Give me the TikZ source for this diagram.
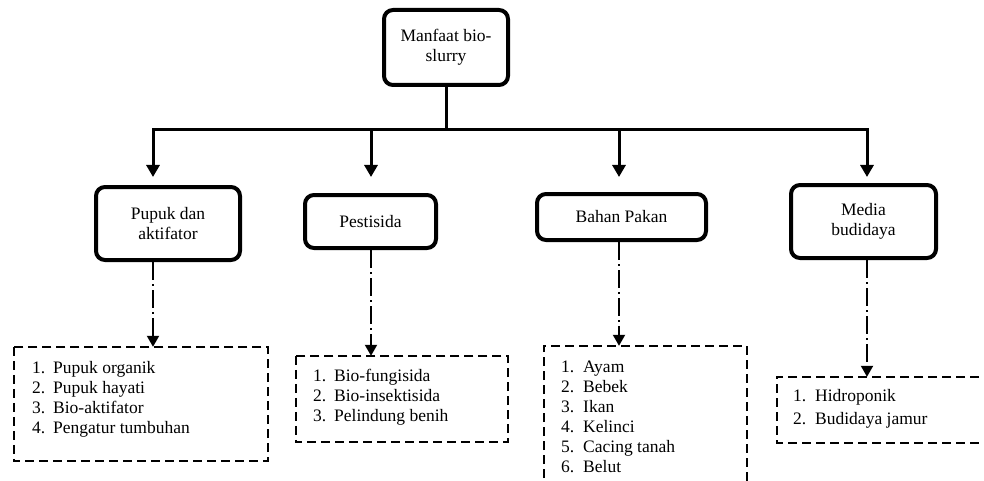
\documentclass[tikz,border=0pt]{standalone}
\usepackage{fontspec}
\setmainfont{Liberation Serif}
\usetikzlibrary{arrows.meta}
\begin{document}
\begin{tikzpicture}[x=1pt,y=-1pt,
  txt/.style={font=\fontsize{17.5}{20}\selectfont},
  mainbox/.style={draw, line width=4pt, rounded corners=9pt, align=center,
    inner sep=0pt, txt},
  listbox/.style={inner sep=0pt},
  listline/.style={line width=1.7pt, dash pattern=on 9pt off 5pt},
  listtext/.style={inner sep=0pt, align=left, anchor=north west, txt},
  bus/.style={line width=3pt},
  arr/.style={line width=3pt, -{Triangle[width=13pt,length=12pt]}},
  dotarr/.style={line width=2pt, dash pattern=on 18pt off 4pt on 2pt off 4pt,
    -{Triangle[width=12pt,length=11pt]}}]
\useasboundingbox (0,0) rectangle (984,481);

% top level and its four categories
\node[mainbox, minimum width=124pt, minimum height=75pt] (root) at (446,47.5) {Manfaat bio-\\slurry};
\node[mainbox, minimum width=144pt, minimum height=73pt] (pupuk) at (168,223.5) {Pupuk dan\\aktifator};
\node[mainbox, minimum width=131pt, minimum height=53pt] (pest) at (370.5,221.5) {Pestisida};
\node[mainbox, minimum width=169pt, minimum height=46pt] (pakan) at (621.5,217) {Bahan Pakan};
\node[mainbox, minimum width=145pt, minimum height=73pt] (media) at (863.5,221.5) {Media\\budidaya};

% branch points on the bus and arrow ends
\coordinate (hub) at (446,130);
\coordinate (b1) at (153,130);
\coordinate (b2) at (371,130);
\coordinate (b3) at (619,130);
\coordinate (b4) at (867,130);
\coordinate (t1) at (153,177);
\coordinate (t2) at (371,177);
\coordinate (t3) at (619,177);
\coordinate (t4) at (867,177);

\draw[bus] (root.south) -- (hub);
\draw[bus, line cap=rect] (b1) -- (b4);
\draw[arr] (b1) -- (t1);
\draw[arr] (b2) -- (t2);
\draw[arr] (b3) -- (t3);
\draw[arr] (b4) -- (t4);

% detail lists
\node[listbox, minimum width=254pt, minimum height=114pt] (l1) at (141,404) {};
\node[listbox, minimum width=212pt, minimum height=86pt] (l2) at (402,399) {};
\node[listbox, minimum width=203pt, minimum height=160pt] (l3) at (645.5,426) {};
\node[listbox, minimum width=216pt, minimum height=66pt] (l4) at (885,410) {};

\draw[listline] (l1.north west) rectangle (l1.south east);
\draw[listline] (l2.north west) rectangle (l2.south east);
\draw[listline] (l3.south west) -- (l3.north west) -- (l3.north east) -- (l3.south east);
\draw[listline] (l4.north east) -- (l4.north west) -- (l4.south west) -- (l4.south east);

\node[listtext] (l1t) at (32,361) {\makebox[21pt][l]{1.}Pupuk organik\\
  \makebox[21pt][l]{2.}Pupuk hayati\\
  \makebox[21pt][l]{3.}Bio-aktifator\\
  \makebox[21pt][l]{4.}Pengatur tumbuhan};
\node[listtext] (l2t) at (313,369) {\makebox[21pt][l]{1.}Bio-fungisida\\
  \makebox[21pt][l]{2.}Bio-insektisida\\
  \makebox[21pt][l]{3.}Pelindung benih};
\node[listtext] (l3t) at (561,361) {\makebox[22pt][l]{1.}Ayam\\
  \makebox[22pt][l]{2.}Bebek\\
  \makebox[22pt][l]{3.}Ikan\\
  \makebox[22pt][l]{4.}Kelinci\\
  \makebox[22pt][l]{5.}Cacing tanah\\
  \makebox[22pt][l]{6.}Belut};
\node[listtext, font=\fontsize{17.5}{23}\selectfont] (l4t) at (793,389) {\makebox[22pt][l]{1.}Hidroponik\\
  \makebox[22pt][l]{2.}Budidaya jamur};

% category to list links
\draw[dotarr] (t1 |- pupuk.south) -- (t1 |- l1.north);
\draw[dotarr] (t2 |- pest.south) -- (t2 |- l2.north);
\draw[dotarr] (t3 |- pakan.south) -- (t3 |- l3.north);
\draw[dotarr] (t4 |- media.south) -- (t4 |- l4.north);
\end{tikzpicture}
\end{document}
